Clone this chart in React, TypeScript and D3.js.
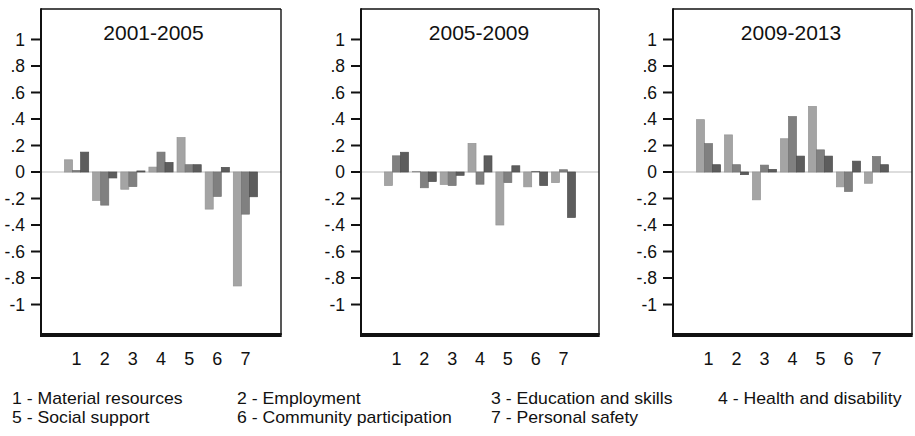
import React from "react";
import * as d3 from "d3";

// Domain labels (x categories) and their legend text
const categories = ["1", "2", "3", "4", "5", "6", "7"];
const domainNames = [
  "1 - Material resources",
  "2 - Employment",
  "3 - Education and skills",
  "4 - Health and disability",
  "5 - Social support",
  "6 - Community participation",
  "7 - Personal safety",
];

// Period titles, one per panel
const periods = ["2001-2005", "2005-2009", "2009-2013"];

// Three series per category (light, medium, dark bars)
const series = ["a", "b", "c"];

// 2001-2005 values per category: [light, medium, dark]
const values2001 = [
  [0.092, 0.012, 0.15],
  [-0.214, -0.25, -0.045],
  [-0.13, -0.11, 0.008],
  [0.037, 0.15, 0.072],
  [0.26, 0.055, 0.055],
  [-0.28, -0.184, 0.035],
  [-0.86, -0.318, -0.187],
];

// 2005-2009
const values2005 = [
  [-0.102, 0.122, 0.149],
  [0.005, -0.119, -0.072],
  [-0.094, -0.102, -0.025],
  [0.216, -0.092, 0.122],
  [-0.4, -0.08, 0.047],
  [-0.112, 0.005, -0.102],
  [-0.08, 0.017, -0.343],
];

// 2009-2013
const values2009 = [
  [0.395, 0.214, 0.055],
  [0.28, 0.055, -0.02],
  [-0.21, 0.052, 0.02],
  [0.251, 0.418, 0.12],
  [0.495, 0.167, 0.12],
  [-0.112, -0.147, 0.082],
  [-0.085, 0.117, 0.055],
];

const panelValues = [values2001, values2005, values2009];

// Y axis ticks and their printed labels
const yTicks = [1, 0.8, 0.6, 0.4, 0.2, 0, -0.2, -0.4, -0.6, -0.8, -1];
const yTickLabels = ["1", ".8", ".6", ".4", ".2", "0", "-.2", "-.4", "-.6", "-.8", "-1"];

const fills = ["#a4a4a4", "#808080", "#5d5d5d"];
const strokes = ["#959595", "#727272", "#4e4e4e"];

// Layout
const W = 915;
const H = 436;
const plotTop = 9;
const plotBottom = 335;
const panels = [
  { left: 41, right: 281, titleDx: -7.5 },
  { left: 361, right: 599, titleDx: -1 },
  { left: 673, right: 912, titleDx: -1.5 },
];
const legendCols = [12, 237, 491, 718];
const legendRows = [404.2, 422.6];
const FONT = "Liberation Sans, Arial, Helvetica, sans-serif";
const INK = "#111";

function Panel({ idx }: { idx: number }) {
  const p = panels[idx];
  const data = panelValues[idx];
  const y = d3.scaleLinear().domain([-1.23, 1.23]).range([plotBottom, plotTop]);
  const x = d3
    .scaleBand<string>()
    .domain(categories)
    .range([p.left + 23.5, p.right - 23.5])
    .paddingInner(0.14)
    .paddingOuter(0);
  const xs = d3.scaleBand<string>().domain(series).range([0, x.bandwidth()]).padding(0);
  const y0 = y(0);

  return (
    <g>
      {/* zero reference line */}
      <line x1={p.left} x2={p.right} y1={y0} y2={y0} stroke="#d2d2d2" strokeWidth={1.5} />
      {/* bars */}
      {categories.map((c, ci) =>
        series.map((s, si) => {
          const v = data[ci][si];
          const top = Math.min(y(v), y0);
          const h = Math.max(Math.abs(y(v) - y0), 0.6);
          return (
            <rect
              key={c + s}
              x={(x(c) as number) + (xs(s) as number)}
              y={top}
              width={xs.bandwidth()}
              height={h}
              fill={fills[si]}
              stroke={strokes[si]}
              strokeWidth={0.7}
            />
          );
        })
      )}
      {/* frame */}
      <line x1={p.left} x2={p.right} y1={plotTop} y2={plotTop} stroke={INK} strokeWidth={1.6} />
      <line x1={p.right} x2={p.right} y1={plotTop} y2={plotBottom} stroke={INK} strokeWidth={1.4} />
      <line x1={p.left} x2={p.left} y1={plotTop - 0.8} y2={plotBottom} stroke={INK} strokeWidth={2} />
      <line x1={p.left - 1} x2={p.right + 0.7} y1={plotBottom} y2={plotBottom} stroke={INK} strokeWidth={4} />
      {/* y ticks */}
      {yTicks.map((t, i) => (
        <g key={t}>
          <line x1={p.left - 10} x2={p.left} y1={y(t)} y2={y(t)} stroke={INK} strokeWidth={2} />
          <text
            x={p.left - 16}
            y={y(t)}
            dy="0.36em"
            textAnchor="end"
            fontFamily={FONT}
            fontSize={17.5}
            fill={INK}
          >
            {yTickLabels[i]}
          </text>
        </g>
      ))}
      {/* x labels */}
      {categories.map((c) => (
        <text
          key={c}
          x={(x(c) as number) + x.bandwidth() / 2}
          y={365}
          textAnchor="middle"
          fontFamily={FONT}
          fontSize={18}
          fill={INK}
        >
          {c}
        </text>
      ))}
      {/* title */}
      <text
        x={(p.left + p.right) / 2 + p.titleDx}
        y={39.5}
        textAnchor="middle"
        fontFamily={FONT}
        fontSize={21}
        fill={INK}
      >
        {periods[idx]}
      </text>
    </g>
  );
}

export default function App() {
  return (
    <svg
      width={W}
      height={H}
      viewBox={`0 0 ${W} ${H}`}
      style={{ position: "absolute", left: 0, top: 0, background: "#fff", display: "block" }}
    >
      <rect x={0} y={0} width={W} height={H} fill="#fff" />
      {panels.map((_, i) => (
        <Panel key={i} idx={i} />
      ))}
      {domainNames.map((name, i) => (
        <text
          key={name}
          transform={`translate(${legendCols[i % 4]},${legendRows[Math.floor(i / 4)]}) scale(1.09,1)`}
          fontFamily={FONT}
          fontSize={16.2}
          fill={INK}
        >
          {name}
        </text>
      ))}
    </svg>
  );
}
